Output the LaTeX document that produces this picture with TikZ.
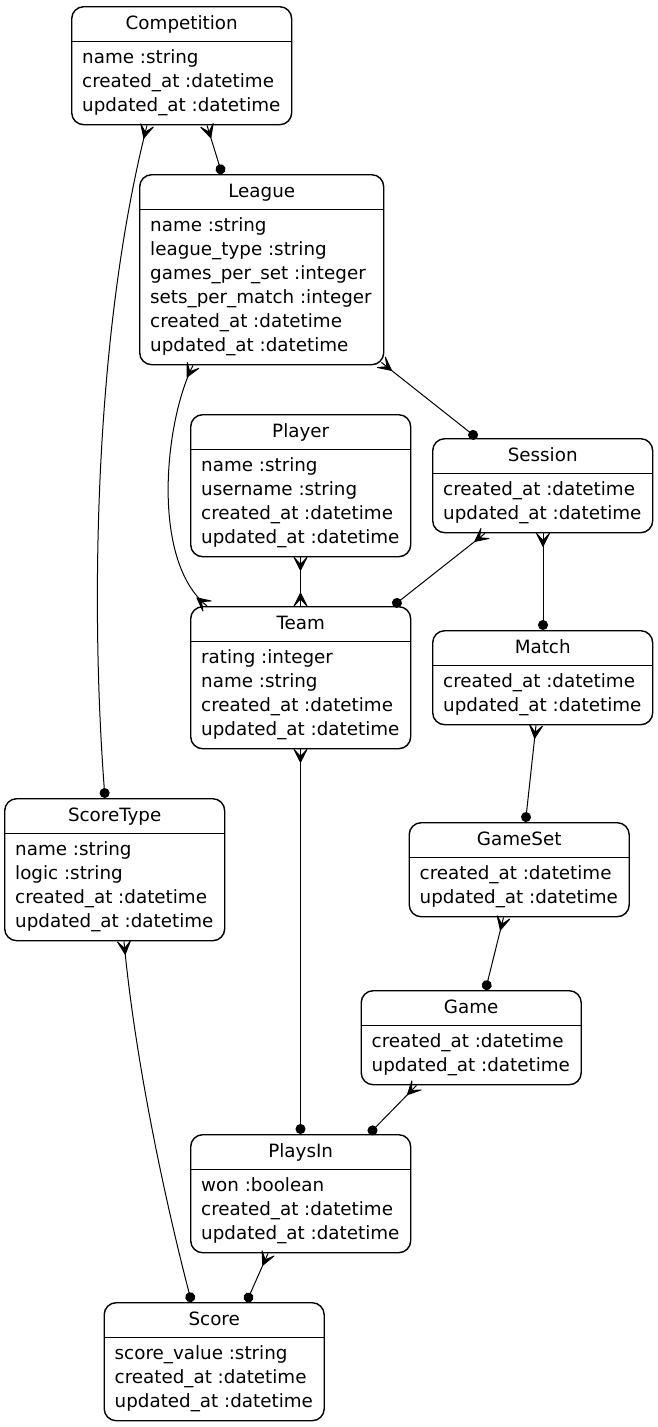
\documentclass[tikz,border=0pt]{standalone}
\usepackage{fontspec}
\setmainfont{DejaVu Sans}
\usetikzlibrary{arrows.meta,calc}
\pgfdeclarearrow{
  name=CrowFoot,
  setup code={
    \pgfarrowssettipend{0pt}
    \pgfarrowssetlineend{0pt}
    \pgfarrowssetbackend{-13pt}
    \pgfarrowssetvisualbackend{-13pt}
    \pgfarrowshullpoint{0pt}{7pt}
    \pgfarrowshullpoint{0pt}{-7pt}
    \pgfarrowshullpoint{-13pt}{0pt}
  },
  drawing code={
    \pgfsetroundjoin
    \pgfsetlinewidth{0.9pt}
    \pgfpathmoveto{\pgfpoint{-13pt}{0pt}}
    \pgfpathlineto{\pgfpoint{0pt}{6.5pt}}
    \pgfpathlineto{\pgfpoint{-7pt}{0pt}}
    \pgfpathlineto{\pgfpoint{0pt}{-6.5pt}}
    \pgfpathclose
    \pgfusepathqfillstroke
  }
}
\tikzset{
  crowf/.tip={CrowFoot},
  dotf/.tip={Circle[length=10pt]},
  box/.style={draw, line width=1.4pt, rounded corners=12pt, inner sep=0pt, anchor=north west, fill=white},
  ttl/.style={font=\fontsize{18.3}{22}\selectfont, anchor=base, inner sep=0pt},
  attr/.style={font=\fontsize{18.3}{22}\selectfont, anchor=base west, inner sep=0pt},
  hdr/.style={line width=1.4pt},
  rel/.style={line width=1pt},
}
\newcommand\entity[7]{%
  \node[box, minimum width=#4pt, minimum height={(46+24*#5)*1pt}] (#1) at (#2,#3) {};
  \node[ttl] (#1-title) at ($(#1.north)+(0,23.5)$) {#6};
  \draw[hdr] ($(#1.north west)+(0,35.5)$) -- ($(#1.north east)+(0,35.5)$);
  \foreach \a [count=\i from 0] in {#7} {\node[attr] (#1-a\i) at ($(#1.north west)+(11,57+24*\i)$) {\a};}
}
\begin{document}
\begin{tikzpicture}[x=1pt,y=-1pt]
\useasboundingbox[fill=white] (0,0) rectangle (657,1427);
\entity{comp}{71}{6}{220}{3}{Competition}{name :string,created\_at :datetime,updated\_at :datetime}
\entity{league}{139}{174}{244}{6}{League}{name :string,league\_type :string,games\_per\_set :integer,sets\_per\_match :integer,created\_at :datetime,updated\_at :datetime}
\entity{player}{190}{414}{220}{4}{Player}{name :string,username :string,created\_at :datetime,updated\_at :datetime}
\entity{session}{432}{438}{220}{2}{Session}{created\_at :datetime,updated\_at :datetime}
\entity{team}{190}{606}{220}{4}{Team}{rating :integer,name :string,created\_at :datetime,updated\_at :datetime}
\entity{match}{432}{630}{220}{2}{Match}{created\_at :datetime,updated\_at :datetime}
\entity{st}{4}{798}{220}{4}{ScoreType}{name :string,logic :string,created\_at :datetime,updated\_at :datetime}
\entity{gameset}{408.5}{822}{220}{2}{GameSet}{created\_at :datetime,updated\_at :datetime}
\entity{game}{360.5}{990}{220}{2}{Game}{created\_at :datetime,updated\_at :datetime}
\entity{playsin}{190}{1134}{220}{3}{PlaysIn}{won :boolean,created\_at :datetime,updated\_at :datetime}
\entity{score}{103.5}{1302}{220}{3}{Score}{score\_value :string,created\_at :datetime,updated\_at :datetime}
% connectors
\draw[rel,{crowf}-{dotf}] ([xshift=136pt]comp.south west) -- ([xshift=83pt]league.north west);
\draw[rel,{crowf}-{dotf}] ([xshift=76pt]comp.south west) .. controls (95,330) and (90,600) .. ([xshift=101pt]st.north west);
\draw[rel,{crowf}-{crowf}] ([xshift=54pt]league.south west) .. controls (165,420) and (150,560) .. ([xshift=17pt]team.north west);
\draw[rel,{crowf}-{dotf}] ($(league.south east)+(-3,-3)$) -- ([xshift=45pt]session.north west);
\draw[rel,{crowf}-{crowf}] ([xshift=110.5pt]player.south west) -- ([xshift=110.5pt]team.north west);
\draw[rel,{crowf}-{dotf}] ([xshift=53pt]session.south west) -- ([xshift=203pt]team.north west);
\draw[rel,{crowf}-{dotf}] ([xshift=111pt]session.south west) -- ([xshift=111pt]match.north west);
\draw[rel,{crowf}-{dotf}] ([xshift=104pt]match.south west) -- ([xshift=117pt]gameset.north west);
\draw[rel,{crowf}-{dotf}] ([xshift=95pt]gameset.south west) -- ([xshift=125pt]game.north west);
\draw[rel,{crowf}-{dotf}] ([xshift=56pt]game.south west) -- ([xshift=179pt]playsin.north west);
\draw[rel,{crowf}-{dotf}] ([xshift=110.5pt]team.south west) -- ([xshift=110.5pt]playsin.north west);
\draw[rel,{crowf}-{dotf}] ([xshift=120pt]st.south west) .. controls (135,1060) and (165,1200) .. ([xshift=88pt]score.north west);
\draw[rel,{crowf}-{dotf}] ([xshift=78pt]playsin.south west) -- ([xshift=143pt]score.north west);
\end{tikzpicture}
\end{document}
